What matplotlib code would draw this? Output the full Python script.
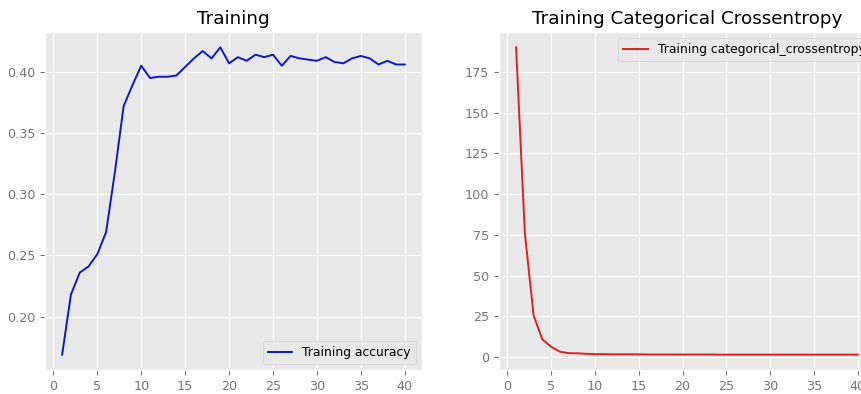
import numpy as np
import matplotlib
matplotlib.use('Agg')
import matplotlib.pyplot as plt

plt.style.use('ggplot')
plt.rcParams['font.family'] = ['DejaVu Sans']
plt.rcParams['font.size'] = 9.2
plt.rcParams['axes.facecolor'] = '#E8E8E8'

# Epochs and training history
epochs = list(range(1, 41))
accuracy = [0.169, 0.218, 0.236, 0.241, 0.251, 0.269, 0.318, 0.372, 0.389, 0.405,
            0.395, 0.396, 0.396, 0.397, 0.404, 0.411, 0.417, 0.411, 0.420, 0.407,
            0.412, 0.409, 0.414, 0.412, 0.414, 0.405, 0.413, 0.411, 0.410, 0.409,
            0.412, 0.408, 0.407, 0.411, 0.413, 0.411, 0.406, 0.409, 0.406, 0.406]
crossentropy = [190.0, 76.0, 25.5, 10.8, 6.3, 3.3, 2.4, 2.3, 2.0, 1.8,
                1.8, 1.7, 1.7, 1.7, 1.7, 1.6, 1.6, 1.6, 1.6, 1.6,
                1.6, 1.6, 1.6, 1.5, 1.5, 1.5, 1.5, 1.5, 1.5, 1.5,
                1.5, 1.5, 1.5, 1.5, 1.5, 1.5, 1.5, 1.5, 1.5, 1.5]

W, H = 862, 394
fig = plt.figure(figsize=(W / 100, H / 100), dpi=100)

# left panel
ax1 = fig.add_axes([45 / W, 24 / H, 377 / W, 338 / H])
ax1.plot(epochs, accuracy, color='#1414c8', lw=1.4, label='Training accuracy')
ax1.set_title('Training', fontsize=13.2)
ax1.set_xticks(range(0, 41, 5))
ax1.set_yticks([0.20, 0.25, 0.30, 0.35, 0.40])
ax1.legend(loc='lower right', fontsize=8.9)

# right panel, cut off by the right edge of the image
ax2 = fig.add_axes([499 / W, 24 / H, 376 / W, 338 / H])
ax2.plot(epochs, crossentropy, color='#e02020', lw=1.4,
         label='Training categorical_crossentropy')
ax2.set_title('Training Categorical Crossentropy', fontsize=13.2)
ax2.set_xticks(range(0, 41, 5))
ax2.set_yticks(range(0, 176, 25))
ax2.legend(loc='upper right', bbox_to_anchor=(1.004, 1.0), fontsize=8.9)

for ax in (ax1, ax2):
    ax.tick_params(labelsize=9.2, colors='#777777', labelcolor='#777777')

fig.savefig('out.png', dpi=100)
